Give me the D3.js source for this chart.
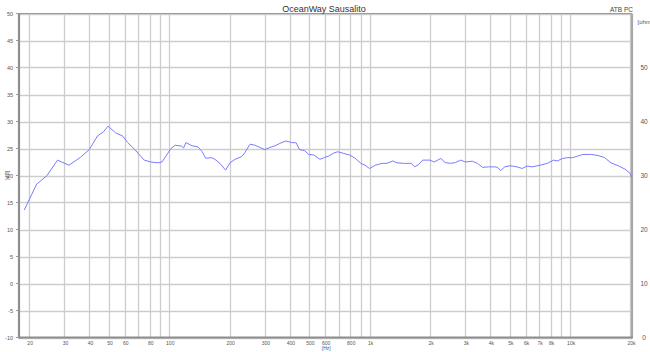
<!DOCTYPE html>
<html><head><meta charset="utf-8">
<script src="https://cdn.jsdelivr.net/npm/d3@7"></script>
<style>html,body{margin:0;padding:0;background:#fff;}svg{display:block;font-family:"Liberation Sans",Arial,sans-serif;}</style>
</head><body>
<script>
const title = "OceanWay Sausalito";
const freqs = [18.9,21.8,24.5,27.7,31.6,36,39.9,43.8,47,49.5,54,58.6,62,67.3,75,81,88,92,102,107,115,118,121,130,139,146,152,163,169,179,191,201,213,230,238,253,268,283,300,318,337,356,382,408,430,446,474,496,526,564,596,625,657,692,740,792,846,903,948,998,1066,1151,1219,1305,1367,1478,1612,1675,1750,1837,2000,2094,2264,2380,2524,2680,2843,3002,3251,3449,3660,3910,4195,4350,4493,4720,5019,5434,5763,6101,6463,7060,7695,8250,8644,9155,9704,10290,10905,11560,12750,13780,14800,15970,17350,18750,19900,20300];
const dbs   = [13.6,18.4,19.95,22.85,21.9,23.35,24.8,27.3,28.1,29.15,27.9,27.3,26.1,24.8,22.85,22.5,22.35,22.5,25.0,25.6,25.45,25.1,26.1,25.5,25.3,24.4,23.2,23.3,23.0,22.25,21.0,22.35,23.0,23.5,24.2,25.8,25.6,25.2,24.8,25.2,25.5,25.95,26.4,26.1,26.05,24.8,24.6,23.9,23.8,23.0,23.35,23.6,24.1,24.4,24.1,23.8,23.2,22.25,21.9,21.3,21.9,22.25,22.25,22.7,22.35,22.25,22.25,21.6,22.0,22.85,22.85,22.5,23.15,22.4,22.25,22.4,22.85,22.5,22.65,22.25,21.5,21.6,21.6,21.5,20.9,21.6,21.8,21.6,21.3,21.75,21.6,21.9,22.25,22.85,22.7,23.15,23.3,23.3,23.6,23.9,23.9,23.7,23.35,22.35,21.8,21.2,20.4,19.6];
const dbTicks = [-10,-5,0,5,10,15,20,25,30,35,40,45,50];
const ohmTicks = [0,10,20,30,40,50];
const gridFreqs = [20,30,40,50,60,70,80,90,100,200,300,400,500,600,700,800,900,1000,2000,3000,4000,5000,6000,7000,8000,9000,10000,20000];
const freqLabels = [[20,"20"],[30,"30"],[40,"40"],[50,"50"],[60,"60"],[80,"80"],[100,"100"],[200,"200"],[300,"300"],[400,"400"],[500,"500"],[600,"600"],[800,"800"],[1000,"1k"],[2000,"2k"],[3000,"3k"],[4000,"4k"],[5000,"5k"],[6000,"6k"],[7000,"7k"],[8000,"8k"],[10000,"10k"],[20000,"20k"]];

const W=650,H=352;
const L=19,R=632,T=13.5,B=337.5;
const x = d3.scaleLog().domain([17.8,20350]).range([L,R]);
const y = d3.scaleLinear().domain([-10,50]).range([B,T]);
const yO = d3.scaleLinear().domain([0,60]).range([B,T]);

const svg = d3.select("body").append("svg").attr("width",W).attr("height",H);

// grid
svg.append("g").selectAll("line").data(dbTicks).join("line")
  .attr("x1",L).attr("x2",R).attr("y1",d=>Math.round(y(d))+0.5).attr("y2",d=>Math.round(y(d))+0.5)
  .attr("stroke","#cdcdcd").attr("stroke-width",1.3);
svg.append("g").selectAll("line").data(gridFreqs).join("line")
  .attr("x1",d=>Math.round(x(d))+0.5).attr("x2",d=>Math.round(x(d))+0.5).attr("y1",T).attr("y2",B)
  .attr("stroke","#cdcdcd").attr("stroke-width",1.3);

// frame
svg.append("line").attr("x1",L).attr("x2",R).attr("y1",T).attr("y2",T).attr("stroke","#9a9a9a").attr("stroke-width",1);
svg.append("line").attr("x1",R).attr("x2",R).attr("y1",T).attr("y2",B).attr("stroke","#a8a8a8").attr("stroke-width",2.2);
svg.append("line").attr("x1",L).attr("x2",L).attr("y1",T).attr("y2",B+1).attr("stroke","#8e8e8e").attr("stroke-width",2.2);
svg.append("line").attr("x1",L).attr("x2",R+1).attr("y1",B).attr("y2",B).attr("stroke","#8e8e8e").attr("stroke-width",2.2);

// left ticks & labels
const lt = svg.append("g");
lt.selectAll("line").data(dbTicks).join("line").attr("x1",L-3).attr("x2",L).attr("y1",d=>y(d)).attr("y2",d=>y(d)).attr("stroke","#999");
lt.selectAll("text").data(dbTicks).join("text").attr("x",L-6).attr("y",d=>y(d)+2).attr("text-anchor","end")
  .attr("font-size",5.5).attr("fill","#555").text(d=>d);
svg.append("text").attr("transform",`translate(9,${y(20)}) rotate(-90)`).attr("text-anchor","middle")
  .attr("font-size",5.5).attr("fill","#555").text("[dB]");

// right labels
svg.append("g").selectAll("text").data(ohmTicks).join("text").attr("x",644).attr("y",d=>yO(d)+2.5).attr("text-anchor","middle")
  .attr("font-size",6.5).attr("fill","#555").text(d=>d);
svg.append("text").attr("x",637.5).attr("y",24).attr("font-size",6).attr("fill","#555").text("[ohm");

// bottom labels
const bt = svg.append("g");
bt.selectAll("text").data(freqLabels).join("text").attr("x",d=>x(d[0])+1).attr("y",B+7).attr("text-anchor","middle")
  .attr("font-size",5).attr("fill","#555").text(d=>d[1]);
svg.append("text").attr("x",x(600)+1).attr("y",B+12.5).attr("text-anchor","middle").attr("font-size",5).attr("fill","#555").text("[Hz]");

// title
svg.append("text").attr("x",324).attr("y",11.5).attr("text-anchor","middle").attr("font-size",9).attr("fill","#333").text(title);
svg.append("text").attr("x",633).attr("y",12).attr("text-anchor","end").attr("font-size",6.5).attr("fill","#444").text("ATB PC");

// curve
const data = freqs.map((f,i)=>({f,v:dbs[i]}));
svg.append("path").datum(data).attr("fill","none").attr("stroke","#7b7bff").attr("stroke-width",1)
  .attr("d",d3.line().x(d=>x(d.f)).y(d=>y(d.v)));
</script>
</body></html>
